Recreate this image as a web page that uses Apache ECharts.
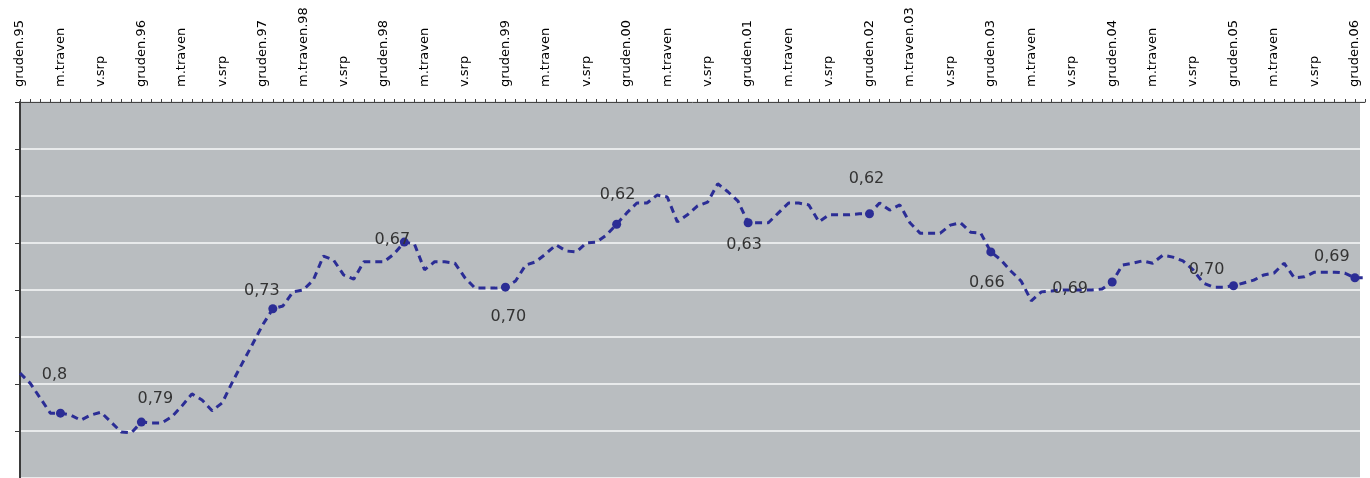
<!DOCTYPE html>
<html>
<head>
<meta charset="utf-8">
<script src="https://cdn.jsdelivr.net/npm/echarts@6/dist/echarts.min.js"></script>
<style>
  html, body { margin: 0; padding: 0; background: #ffffff; }
  #chart { width: 1370px; height: 478px; }
</style>
</head>
<body>
<div id="chart"></div>
<script>
// ---- DATA ----
const monthNames = ['prosinec', 'svečan', 'sušec', 'm.traven', 'v.traven', 'rožnik',
                    'm.srpan', 'v.srp', 'kimavec', 'vinotok', 'listopad', 'gruden'];
const years = ['95', '96', '97', '98', '99', '00', '01', '02', '03', '04', '05', '06', '07'];
const aprilWithYear = ['98', '03'];

// Monthly line values (Dec 1995 .. Jan 2007) (plot units)
const lineValues = [
  2.23,
  2.02, 1.70, 1.38, 1.38, 1.34, 1.23, 1.34, 1.40, 1.19, 0.98, 0.96, 1.19,
  1.17, 1.17, 1.30, 1.53, 1.79, 1.66, 1.43, 1.60, 2.04, 2.45, 2.85, 3.26,
  3.60, 3.66, 3.96, 4.00, 4.21, 4.72, 4.64, 4.32, 4.23, 4.60, 4.60, 4.60,
  4.77, 5.02, 4.98, 4.43, 4.60, 4.60, 4.57, 4.26, 4.04, 4.04, 4.04, 4.06,
  4.19, 4.53, 4.60, 4.77, 4.96, 4.83, 4.81, 5.00, 5.02, 5.17, 5.40, 5.64,
  5.85, 5.85, 6.02, 5.98, 5.45, 5.60, 5.79, 5.87, 6.26, 6.09, 5.89, 5.43,
  5.43, 5.43, 5.64, 5.85, 5.85, 5.81, 5.45, 5.60, 5.60, 5.60, 5.62, 5.62,
  5.85, 5.70, 5.81, 5.43, 5.21, 5.21, 5.21, 5.38, 5.43, 5.23, 5.21, 4.81,
  4.64, 4.40, 4.19, 3.77, 3.96, 3.98, 4.00, 4.00, 4.00, 4.00, 4.02, 4.17,
  4.53, 4.57, 4.62, 4.57, 4.74, 4.70, 4.62, 4.43, 4.15, 4.06, 4.06, 4.09,
  4.15, 4.21, 4.32, 4.36, 4.57, 4.26, 4.28, 4.38, 4.38, 4.38, 4.36, 4.26,
  4.26
];

// Annotated points (month index) and their labels
const markerIndex = [4, 12, 25, 38, 48, 59, 72, 84, 96, 108, 120, 132];
const markerLabels = ['0,8', '0,79', '0,73', '0,67', '0,70', '0,62', '0,63', '0,62', '0,66', '0,69', '0,70', '0,69'];

// ---- LAYOUT (label offsets, px) ----
const labelOffsets = [[-6, -38], [14, -23], [-11, -18], [-12, -2], [3, 30], [1, -29],
                      [-4, 22], [-3, -35], [-4, 31], [-42, 7], [-27, -16], [-23, -21]];

// ---- build categories ----
const categories = [];
categories.push('gruden.' + years[0]);
for (let y = 1; y <= 11; y++) {
  for (let m = 0; m < 12; m++) {
    let name = monthNames[m];
    if (m === 11) name = 'gruden.' + years[y];
    if (m === 3 && aprilWithYear.indexOf(years[y]) >= 0) name = monthNames[m] + '.' + years[y];
    categories.push(name);
  }
}
categories.push(monthNames[0] + '.' + years[12]);

const seriesData = lineValues.map(function (v, i) {
  const k = markerIndex.indexOf(i);
  if (k < 0) return { value: v };
  return {
    value: v,
    symbol: 'circle',
    symbolSize: 9,
    label: {
      show: true,
      formatter: markerLabels[k],
      position: 'inside',
      offset: labelOffsets[k]
    }
  };
});

const chart = echarts.init(document.getElementById('chart'), null, { renderer: 'canvas' });
chart.setOption({
  animation: false,
  backgroundColor: '#ffffff',
  grid: {
    left: 20, right: 5, top: 102, bottom: 0,
    show: true, backgroundColor: '#b9bdc0', borderWidth: 0
  },
  xAxis: {
    type: 'category',
    position: 'top',
    boundaryGap: false,
    data: categories,
    axisLine: { show: true, onZero: false, lineStyle: { color: '#444', width: 1 } },
    axisTick: { show: true, interval: 0, length: 3, lineStyle: { color: '#444' } },
    axisLabel: {
      interval: 3, rotate: -90, margin: 15,
      fontFamily: 'DejaVu Sans', fontSize: 13, color: '#000000'
    },
    splitLine: { show: false }
  },
  yAxis: {
    type: 'value',
    min: 0, max: 8, interval: 1,
    axisLine: { show: true, lineStyle: { color: '#3a3a3a', width: 2 } },
    axisTick: { show: true, length: 5, lineStyle: { color: '#3a3a3a', width: 1 } },
    axisLabel: { show: false },
    splitLine: { show: true, lineStyle: { color: '#e8eaeb', width: 2 } }
  },
  graphic: [{
    type: 'rect', z: 1,
    shape: { x: 1360, y: 103, width: 10, height: 375 },
    style: { fill: '#ffffff' }
  }],
  series: [{
    type: 'line',
    data: seriesData,
    symbol: 'none',
    showSymbol: true,
    showAllSymbol: true,
    clip: false,
    lineStyle: { color: '#2b2d95', width: 3, type: [7, 5], cap: 'butt' },
    itemStyle: { color: '#2b2d95' },
    label: {
      fontFamily: 'DejaVu Sans', fontSize: 16, color: '#333333'
    },
    z: 3
  }]
});
</script>
</body>
</html>
